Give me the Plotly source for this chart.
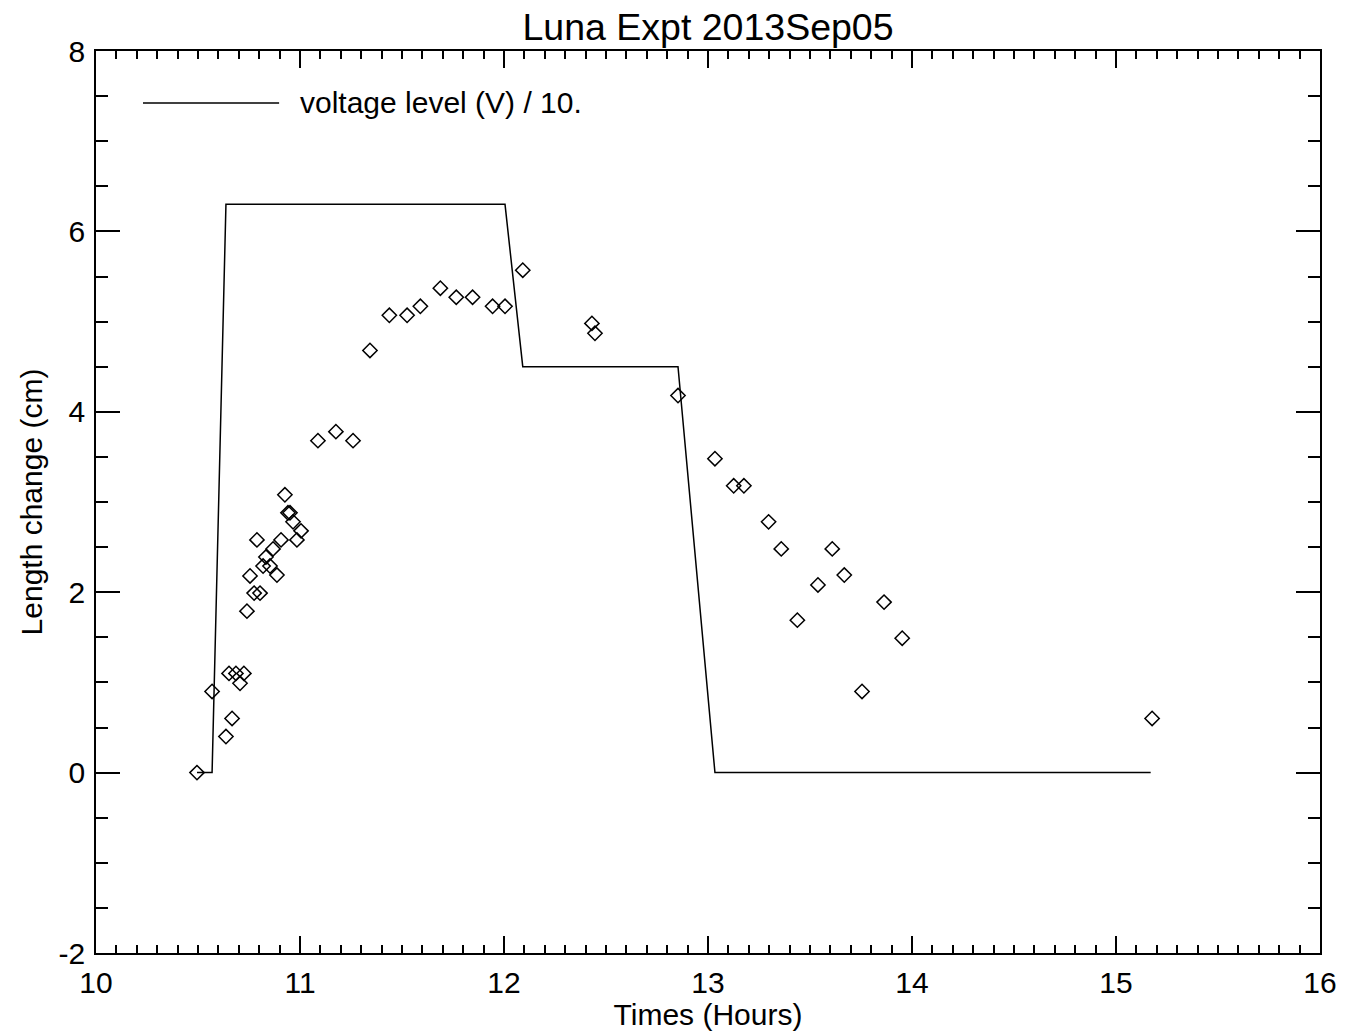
import plotly.graph_objects as go

# Measured length change of the sample (cm) versus time of day (hours)
time_h = [10.495, 10.569, 10.637, 10.652, 10.667, 10.686, 10.706, 10.725, 10.740, 10.755,
          10.775, 10.789, 10.804, 10.819, 10.833, 10.853, 10.868, 10.887, 10.907, 10.926,
          10.941, 10.951, 10.966, 10.985, 11.005, 11.088, 11.176, 11.260, 11.343, 11.438,
          11.525, 11.590, 11.688, 11.766, 11.846, 11.944, 12.005, 12.092, 12.431, 12.446,
          12.853, 13.034, 13.126, 13.176, 13.297, 13.359, 13.438, 13.539, 13.609, 13.668,
          13.755, 13.863, 13.952, 15.177]
length_cm = [0.00, 0.90, 0.40, 1.10, 0.60, 1.10, 0.99, 1.10, 1.79, 2.18,
             1.99, 2.58, 1.99, 2.29, 2.39, 2.29, 2.48, 2.19, 2.58, 3.08,
             2.88, 2.88, 2.78, 2.58, 2.68, 3.68, 3.78, 3.68, 4.68, 5.07,
             5.07, 5.17, 5.37, 5.27, 5.27, 5.17, 5.17, 5.57, 4.98, 4.87,
             4.18, 3.48, 3.18, 3.18, 2.78, 2.48, 1.69, 2.08, 2.48, 2.19,
             0.90, 1.89, 1.49, 0.60]

# Applied voltage (V) divided by 10
volt_time_h = [10.495, 10.569, 10.637, 12.005, 12.092, 12.853, 13.034, 15.170]
volt_level = [0.0, 0.0, 6.3, 6.3, 4.5, 4.5, 0.0, 0.0]

x_ticks = [10, 11, 12, 13, 14, 15, 16]
x_tick_text = ["10", "11", "12", "13", "14", "15", "16"]
y_ticks = [-2, 0, 2, 4, 6, 8]
y_tick_text = ["-2", "0", "2", "4", "6", "8"]

FONT = "Liberation Sans, Arial, Helvetica, sans-serif"
LABEL_SIZE = 30

fig = go.Figure()
fig.add_trace(go.Scatter(
    x=volt_time_h, y=volt_level, mode="lines",
    line=dict(color="black", width=1.5), showlegend=False))
fig.add_trace(go.Scatter(
    x=time_h, y=length_cm, mode="markers",
    marker=dict(symbol="diamond-open", size=11, color="black", line=dict(width=1.5)),
    showlegend=False))

axis_common = dict(
    showgrid=False, zeroline=False, showline=True, linecolor="black", linewidth=1.5,
    mirror="allticks", ticks="inside", tickcolor="black", tickwidth=1.5,
    tickfont=dict(family=FONT, size=LABEL_SIZE, color="black"),
    tickmode="array", automargin=False,
)

fig.update_xaxes(
    **axis_common, range=[10, 16], tickvals=x_ticks, ticktext=x_tick_text, ticklen=17,
    minor=dict(dtick=0.1, ticklen=8, ticks="inside", tickcolor="black", tickwidth=1.5),
    ticklabelstandoff=2,
    title=dict(text="Times (Hours)", font=dict(family=FONT, size=LABEL_SIZE, color="black"),
               standoff=6),
)
fig.update_yaxes(
    **axis_common, range=[-2, 8], tickvals=y_ticks, ticktext=y_tick_text, ticklen=24,
    minor=dict(dtick=0.5, ticklen=12, ticks="inside", tickcolor="black", tickwidth=1.5),
    ticklabelstandoff=3,
    title=dict(text="Length change (cm)", font=dict(family=FONT, size=LABEL_SIZE, color="black"),
               standoff=7),
)

# Legend entry for the voltage curve
fig.add_shape(type="line", xref="paper", yref="paper",
              x0=0.0384, x1=0.1496, y0=0.9424, y1=0.9424,
              line=dict(color="black", width=1.5))
fig.add_annotation(text="voltage level (V) / 10.", xref="paper", yref="paper",
                   x=0.165, y=0.9424, xanchor="left", yanchor="middle", showarrow=False,
                   font=dict(family=FONT, size=LABEL_SIZE, color="black"))

fig.update_layout(
    width=1345, height=1031,
    margin=dict(l=96, r=25, t=51, b=78, autoexpand=False),
    paper_bgcolor="white", plot_bgcolor="white",
    title=dict(text="Luna Expt 2013Sep05", x=0.5, xref="paper", xanchor="center",
               y=1 - 27 / 1031, yref="container", yanchor="middle",
               font=dict(family=FONT, size=37.5, color="black")),
    font=dict(family=FONT, color="black"),
)

fig.write_html("out.html")
